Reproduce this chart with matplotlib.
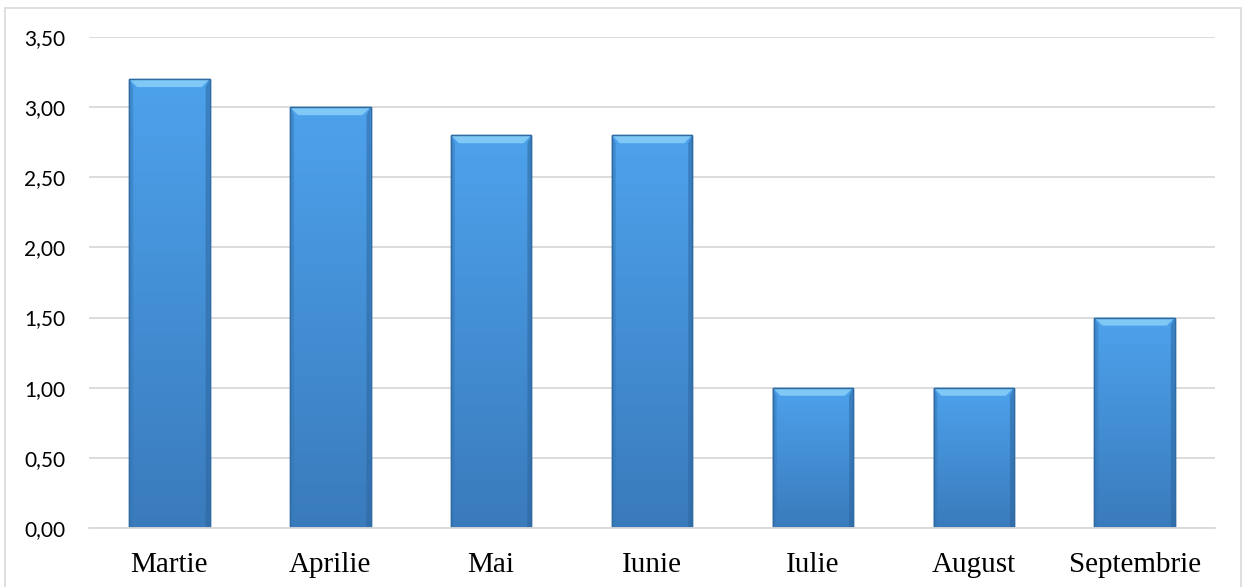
import matplotlib
matplotlib.use("Agg")
import matplotlib.pyplot as plt
import numpy as np
from matplotlib.patches import Rectangle, Polygon
from matplotlib.colors import LinearSegmentedColormap
from matplotlib.ticker import FuncFormatter

categories = ["Martie", "Aprilie", "Mai", "Iunie", "Iulie", "August", "Septembrie"]
values = [3.2, 3.0, 2.8, 2.8, 1.0, 1.0, 1.5]
yticks = [0.0, 0.5, 1.0, 1.5, 2.0, 2.5, 3.0, 3.5]

fig = plt.figure(figsize=(12.43, 5.87), dpi=100)
ax = fig.add_axes([89/1243, 1-528/587, (1215-89)/1243, (528-37)/587])

x = np.arange(len(categories))
bars = ax.bar(x, values, width=0.5, color="#4596DF", edgecolor="#2E6AA3", linewidth=1.0, zorder=2)

ax.set_xlim(-0.5, len(categories) - 0.5)
ax.set_ylim(0, 3.5)

cmap = LinearSegmentedColormap.from_list("g", ["#3A7BBC", "#4DA2EC"])
bev = 8 / 140.0   # data units vertical
bevx = 8 / 160.8  # data units horizontal
for b in bars:
    x0, w, h = b.get_x(), b.get_width(), b.get_height()
    grad = np.linspace(0, 1, 256).reshape(-1, 1)
    im = ax.imshow(grad, extent=(x0, x0 + w, 0, h), origin="lower", cmap=cmap,
                   aspect="auto", zorder=2.1, interpolation="bilinear")
    im.set_clip_path(b)
    # top bevel
    ax.add_patch(Polygon([(x0, h), (x0 + w, h), (x0 + w - bevx, h - bev), (x0 + bevx, h - bev)],
                         closed=True, facecolor="#80C8F5", edgecolor="none", zorder=2.2))
    # left & right bevels (darker)
    ax.add_patch(Polygon([(x0, 0), (x0, h), (x0 + bevx*0.5, h - bev), (x0 + bevx*0.5, 0)],
                         closed=True, facecolor="#3678B8", edgecolor="none", alpha=0.5, zorder=2.2))
    ax.add_patch(Polygon([(x0 + w, 0), (x0 + w, h), (x0 + w - bevx*0.5, h - bev), (x0 + w - bevx*0.5, 0)],
                         closed=True, facecolor="#2C629A", edgecolor="none", alpha=0.5, zorder=2.2))
    ax.add_patch(Rectangle((x0, 0), w, h, facecolor="none", edgecolor="#2E6AA3", linewidth=1.0, zorder=2.3))

ax.set_yticks(yticks)
ax.yaxis.set_major_formatter(FuncFormatter(lambda v, p: f"{v:.2f}".replace(".", ",")))
ax.set_xticks(x)
ax.set_xticklabels(categories, fontfamily="Liberation Serif", fontsize=21)
for lab in ax.get_yticklabels():
    lab.set_fontfamily("Lato")
    lab.set_fontsize(15)
ax.tick_params(axis="y", length=0, pad=17, colors="#000000")
ax.tick_params(axis="x", length=0, pad=17)
ax.grid(axis="y", color="#D9D9D9", linewidth=1.3, zorder=0)
ax.set_axisbelow(True)
for s in ["top", "right", "left"]:
    ax.spines[s].set_visible(False)
ax.spines["bottom"].set_color("#D9D9D9")
ax.spines["bottom"].set_linewidth(1.3)

fig.patches.append(Rectangle((5/1243, -0.01), (1241-5)/1243, 1 - 8/587 + 0.01, transform=fig.transFigure,
                             facecolor="none", edgecolor="#D9D9D9", linewidth=1.2, zorder=0))

fig.savefig("out.png", dpi=100)
